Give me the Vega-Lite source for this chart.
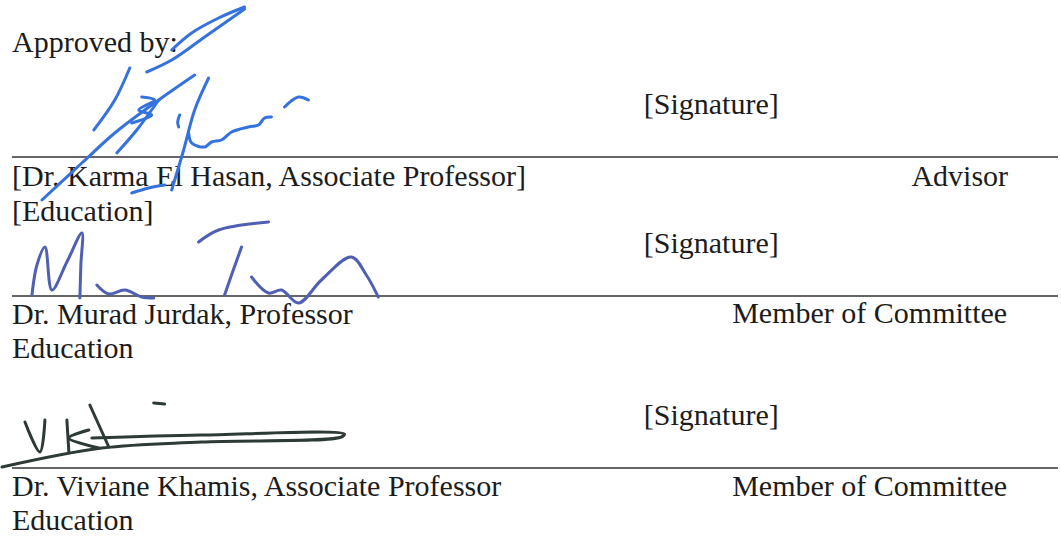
{
  "$schema": "https://vega.github.io/schema/vega-lite/v6.json",
  "width": 1061,
  "height": 538,
  "autosize": {"type": "fit", "contains": "padding"},
  "padding": 0,
  "background": "white",
  "config": {"view": {"stroke": null}},
  "datasets": {
    "texts": [
      {"x": 10, "y": 52, "label": "Approved by:", "side": "left"},
      {"x": 643, "y": 114, "label": "[Signature]", "side": "left"},
      {"x": 10, "y": 186, "label": "[Dr. Karma El Hasan, Associate Professor]", "side": "left"},
      {"x": 1008, "y": 186, "label": "Advisor", "side": "right"},
      {"x": 10, "y": 221, "label": "[Education]", "side": "left"},
      {"x": 643, "y": 253, "label": "[Signature]", "side": "left"},
      {"x": 10, "y": 324, "label": "Dr. Murad Jurdak, Professor", "side": "left"},
      {"x": 1007, "y": 323, "label": "Member of Committee", "side": "right"},
      {"x": 10, "y": 358, "label": "Education", "side": "left"},
      {"x": 643, "y": 425, "label": "[Signature]", "side": "left"},
      {"x": 10, "y": 496, "label": "Dr. Viviane Khamis, Associate Professor", "side": "left"},
      {"x": 1007, "y": 496, "label": "Member of Committee", "side": "right"},
      {"x": 10, "y": 530, "label": "Education", "side": "left"}
    ],
    "rules": [
      {"x": 10, "x2": 1058, "y": 157},
      {"x": 10, "x2": 1058, "y": 296},
      {"x": 10, "x2": 1058, "y": 468}
    ],
    "strokes": [
      {"sig": "s1", "id": "a", "o": 1, "x": 243, "y": 7},
      {"sig": "s1", "id": "a", "o": 2, "x": 217, "y": 18},
      {"sig": "s1", "id": "a", "o": 3, "x": 190, "y": 33},
      {"sig": "s1", "id": "a", "o": 4, "x": 170, "y": 50},
      {"sig": "s1", "id": "b", "o": 1, "x": 243, "y": 9},
      {"sig": "s1", "id": "b", "o": 2, "x": 203, "y": 37},
      {"sig": "s1", "id": "b", "o": 3, "x": 170, "y": 60},
      {"sig": "s1", "id": "b", "o": 4, "x": 145, "y": 72},
      {"sig": "s1", "id": "c", "o": 1, "x": 193, "y": 75},
      {"sig": "s1", "id": "c", "o": 2, "x": 157, "y": 100},
      {"sig": "s1", "id": "c", "o": 3, "x": 113, "y": 133},
      {"sig": "s1", "id": "c", "o": 4, "x": 80, "y": 163},
      {"sig": "s1", "id": "c", "o": 5, "x": 40, "y": 200},
      {"sig": "s1", "id": "d", "o": 1, "x": 128, "y": 68},
      {"sig": "s1", "id": "d", "o": 2, "x": 113, "y": 100},
      {"sig": "s1", "id": "d", "o": 3, "x": 92, "y": 130},
      {"sig": "s1", "id": "e", "o": 1, "x": 140, "y": 97},
      {"sig": "s1", "id": "e", "o": 2, "x": 153, "y": 100},
      {"sig": "s1", "id": "e", "o": 3, "x": 137, "y": 110},
      {"sig": "s1", "id": "e", "o": 4, "x": 150, "y": 115},
      {"sig": "s1", "id": "e", "o": 5, "x": 130, "y": 123},
      {"sig": "s1", "id": "f", "o": 1, "x": 157, "y": 100},
      {"sig": "s1", "id": "f", "o": 2, "x": 135, "y": 130},
      {"sig": "s1", "id": "f", "o": 3, "x": 115, "y": 153},
      {"sig": "s1", "id": "g", "o": 1, "x": 207, "y": 78},
      {"sig": "s1", "id": "g", "o": 2, "x": 193, "y": 110},
      {"sig": "s1", "id": "g", "o": 3, "x": 182, "y": 150},
      {"sig": "s1", "id": "g", "o": 4, "x": 170, "y": 190},
      {"sig": "s1", "id": "h", "o": 1, "x": 178, "y": 115},
      {"sig": "s1", "id": "h", "o": 2, "x": 176, "y": 122},
      {"sig": "s1", "id": "h", "o": 3, "x": 177, "y": 127},
      {"sig": "s1", "id": "i", "o": 1, "x": 130, "y": 193},
      {"sig": "s1", "id": "i", "o": 2, "x": 147, "y": 188},
      {"sig": "s1", "id": "i", "o": 3, "x": 163, "y": 185},
      {"sig": "s1", "id": "j", "o": 1, "x": 187, "y": 133},
      {"sig": "s1", "id": "j", "o": 2, "x": 190, "y": 143},
      {"sig": "s1", "id": "j", "o": 3, "x": 203, "y": 147},
      {"sig": "s1", "id": "j", "o": 4, "x": 210, "y": 142},
      {"sig": "s1", "id": "j", "o": 5, "x": 220, "y": 140},
      {"sig": "s1", "id": "j", "o": 6, "x": 230, "y": 132},
      {"sig": "s1", "id": "j", "o": 7, "x": 247, "y": 127},
      {"sig": "s1", "id": "j", "o": 8, "x": 257, "y": 125},
      {"sig": "s1", "id": "j", "o": 9, "x": 263, "y": 118},
      {"sig": "s1", "id": "j", "o": 10, "x": 270, "y": 117},
      {"sig": "s1", "id": "k", "o": 1, "x": 283, "y": 107},
      {"sig": "s1", "id": "k", "o": 2, "x": 297, "y": 97},
      {"sig": "s1", "id": "k", "o": 3, "x": 307, "y": 100},
      {"sig": "s2", "id": "m", "o": 1, "x": 30, "y": 295},
      {"sig": "s2", "id": "m", "o": 2, "x": 35, "y": 265},
      {"sig": "s2", "id": "m", "o": 3, "x": 43, "y": 247},
      {"sig": "s2", "id": "m", "o": 4, "x": 50, "y": 290},
      {"sig": "s2", "id": "m", "o": 5, "x": 65, "y": 262},
      {"sig": "s2", "id": "m", "o": 6, "x": 80, "y": 233},
      {"sig": "s2", "id": "m", "o": 7, "x": 79, "y": 265},
      {"sig": "s2", "id": "m", "o": 8, "x": 78, "y": 298},
      {"sig": "s2", "id": "u", "o": 1, "x": 95, "y": 285},
      {"sig": "s2", "id": "u", "o": 2, "x": 107, "y": 294},
      {"sig": "s2", "id": "u", "o": 3, "x": 123, "y": 290},
      {"sig": "s2", "id": "u", "o": 4, "x": 140, "y": 297},
      {"sig": "s2", "id": "u", "o": 5, "x": 152, "y": 298},
      {"sig": "s2", "id": "t", "o": 1, "x": 197, "y": 242},
      {"sig": "s2", "id": "t", "o": 2, "x": 217, "y": 230},
      {"sig": "s2", "id": "t", "o": 3, "x": 267, "y": 222},
      {"sig": "s2", "id": "v", "o": 1, "x": 240, "y": 247},
      {"sig": "s2", "id": "v", "o": 2, "x": 231, "y": 272},
      {"sig": "s2", "id": "v", "o": 3, "x": 223, "y": 295},
      {"sig": "s2", "id": "w", "o": 1, "x": 250, "y": 277},
      {"sig": "s2", "id": "w", "o": 2, "x": 267, "y": 293},
      {"sig": "s2", "id": "w", "o": 3, "x": 280, "y": 290},
      {"sig": "s2", "id": "w", "o": 4, "x": 297, "y": 303},
      {"sig": "s2", "id": "w", "o": 5, "x": 320, "y": 280},
      {"sig": "s2", "id": "w", "o": 6, "x": 350, "y": 257},
      {"sig": "s2", "id": "w", "o": 7, "x": 365, "y": 275},
      {"sig": "s2", "id": "w", "o": 8, "x": 377, "y": 297},
      {"sig": "s3", "id": "V", "o": 1, "x": 23, "y": 422},
      {"sig": "s3", "id": "V", "o": 2, "x": 38, "y": 452},
      {"sig": "s3", "id": "V", "o": 3, "x": 43, "y": 420},
      {"sig": "s3", "id": "K", "o": 1, "x": 65, "y": 420},
      {"sig": "s3", "id": "K", "o": 2, "x": 67, "y": 452},
      {"sig": "s3", "id": "k", "o": 1, "x": 87, "y": 430},
      {"sig": "s3", "id": "k", "o": 2, "x": 67, "y": 438},
      {"sig": "s3", "id": "k", "o": 3, "x": 97, "y": 448},
      {"sig": "s3", "id": "T", "o": 1, "x": 88, "y": 405},
      {"sig": "s3", "id": "T", "o": 2, "x": 107, "y": 447},
      {"sig": "s3", "id": "L", "o": 1, "x": 90, "y": 438},
      {"sig": "s3", "id": "L", "o": 2, "x": 200, "y": 435},
      {"sig": "s3", "id": "L", "o": 3, "x": 343, "y": 434},
      {"sig": "s3", "id": "L", "o": 4, "x": 340, "y": 437},
      {"sig": "s3", "id": "L", "o": 5, "x": 200, "y": 442},
      {"sig": "s3", "id": "L", "o": 6, "x": 100, "y": 448},
      {"sig": "s3", "id": "L", "o": 7, "x": 0, "y": 467},
      {"sig": "s3", "id": "D", "o": 1, "x": 152, "y": 403},
      {"sig": "s3", "id": "D", "o": 2, "x": 163, "y": 404}
    ]
  },
  "encoding": {},
  "layer": [
    {
      "data": {"name": "rules"},
      "mark": {"type": "rule", "color": "#333333", "strokeWidth": 1.6},
      "encoding": {
        "x": {"field": "x", "type": "quantitative", "scale": {"domain": [0, 1061], "nice": false, "zero": false}, "axis": null},
        "x2": {"field": "x2"},
        "y": {"field": "y", "type": "quantitative", "scale": {"domain": [0, 538], "nice": false, "zero": false, "reverse": true}, "axis": null}
      }
    },
    {
      "data": {"name": "texts"},
      "transform": [{"filter": "datum.side === 'left'"}],
      "mark": {"type": "text", "align": "left", "baseline": "alphabetic", "font": "Liberation Serif", "fontSize": 30, "color": "#1c1c1c"},
      "encoding": {
        "x": {"field": "x", "type": "quantitative", "scale": {"domain": [0, 1061], "nice": false, "zero": false}, "axis": null},
        "y": {"field": "y", "type": "quantitative", "scale": {"domain": [0, 538], "nice": false, "zero": false, "reverse": true}, "axis": null},
        "text": {"field": "label"}
      }
    },
    {
      "data": {"name": "texts"},
      "transform": [{"filter": "datum.side === 'right'"}],
      "mark": {"type": "text", "align": "right", "baseline": "alphabetic", "font": "Liberation Serif", "fontSize": 30, "color": "#1c1c1c"},
      "encoding": {
        "x": {"field": "x", "type": "quantitative", "scale": {"domain": [0, 1061], "nice": false, "zero": false}, "axis": null},
        "y": {"field": "y", "type": "quantitative", "scale": {"domain": [0, 538], "nice": false, "zero": false, "reverse": true}, "axis": null},
        "text": {"field": "label"}
      }
    },
    {
      "data": {"name": "strokes"},
      "mark": {"type": "line", "interpolate": "catmull-rom", "strokeCap": "round", "strokeJoin": "round"},
      "encoding": {
        "x": {"field": "x", "type": "quantitative", "scale": {"domain": [0, 1061], "nice": false, "zero": false}, "axis": null},
        "y": {"field": "y", "type": "quantitative", "scale": {"domain": [0, 538], "nice": false, "zero": false, "reverse": true}, "axis": null},
        "detail": {"field": "id"},
        "order": {"field": "o", "type": "quantitative"},
        "color": {"field": "sig", "type": "nominal", "scale": {"domain": ["s1", "s2", "s3"], "range": ["#3572dd", "#4f5fb2", "#2e3a36"]}, "legend": null},
        "strokeWidth": {"field": "sig", "type": "nominal", "scale": {"domain": ["s1", "s2", "s3"], "range": [3, 3, 2.6]}, "legend": null}
      }
    }
  ]
}
